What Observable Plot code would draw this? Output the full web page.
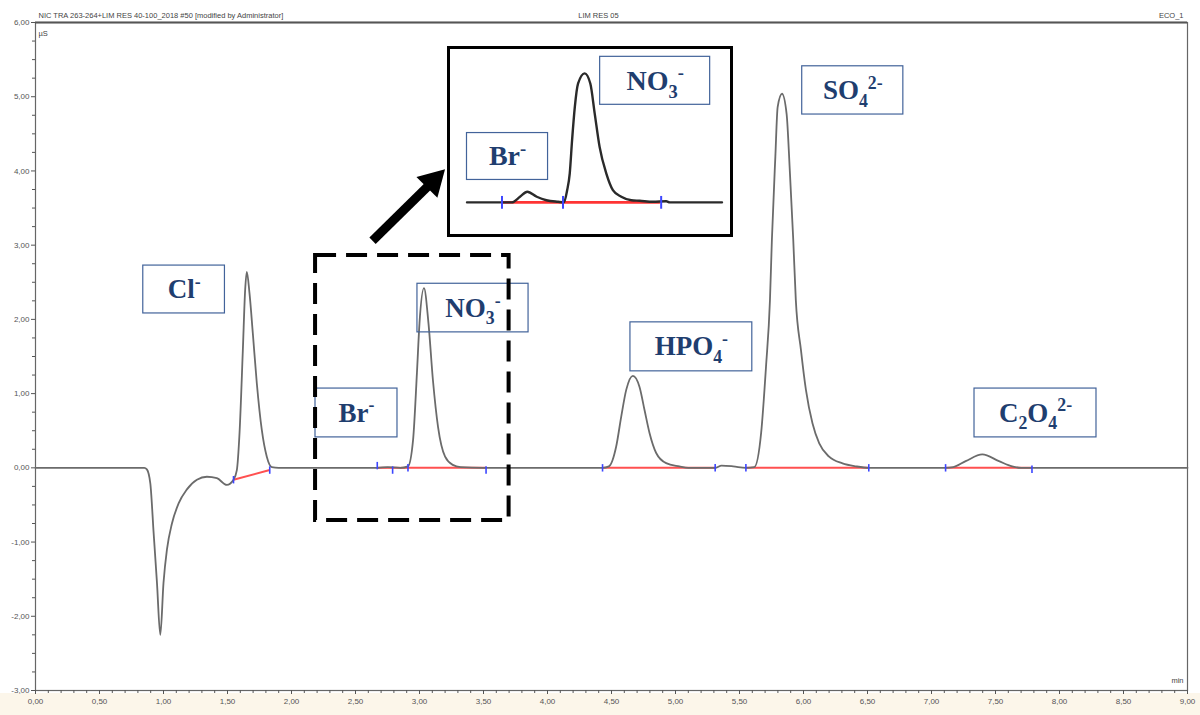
<!DOCTYPE html>
<html>
<head>
<meta charset="utf-8">
<script src="https://cdn.jsdelivr.net/npm/d3@7"></script>
<script src="https://cdn.jsdelivr.net/npm/@observablehq/plot@0.6"></script>
<style>
  html, body { margin: 0; padding: 0; background: #fff; }
  #wrap { position: relative; width: 1200px; height: 715px; overflow: hidden; }
  #inset { position: absolute; left: 447px; top: 46px; width: 286px; height: 191px;
           border: 3.5px solid #000; box-sizing: border-box; background: #fff; }
  #inset svg { display: block; }
</style>
</head>
<body>
<div id="wrap"><div id="main"></div><div id="inset"></div></div>
<script>
// ---------------- data ----------------
// chromatogram: retention time (min) and conductivity (µS)
const time = [0.00, 0.50, 0.85, 0.87, 0.897, 0.923, 0.949, 0.975, 1.000, 1.027, 1.066, 1.118, 1.183, 1.261, 1.339, 1.417, 1.495, 1.547, 1.573, 1.594, 1.620, 1.638, 1.651, 1.672, 1.698, 1.729, 1.768, 1.807, 1.846, 1.90,
  2.67, 2.75, 2.85, 2.91, 2.95, 2.98, 3.00, 3.035, 3.07, 3.105, 3.145, 3.20, 3.26, 3.32, 3.50,
  4.43, 4.48, 4.537, 4.576, 4.615, 4.667, 4.719, 4.758, 4.797, 4.849, 4.927, 5.03, 5.10,
  5.31, 5.36, 5.45, 5.55, 5.616, 5.669, 5.707, 5.738, 5.753, 5.78, 5.798, 5.832, 5.868, 5.894, 5.92, 5.94, 5.98, 6.019, 6.07, 6.123, 6.20, 6.305, 6.41, 6.51,
  7.11, 7.17, 7.267, 7.397, 7.527, 7.63, 7.70, 9.00];
const signal = [0, 0, 0, -0.02, -0.21, -0.88, -1.55, -2.25, -1.55, -1.10, -0.75, -0.48, -0.29, -0.16, -0.12, -0.14, -0.23, -0.16, -0.03, 0.47, 1.59, 2.40, 2.64, 2.35, 1.81, 1.14, 0.51, 0.15, 0.01, 0,
  0, 0.01, 0, 0.02, 0.38, 1.28, 1.95, 2.42, 1.95, 1.18, 0.55, 0.15, 0.04, 0.01, 0,
  0, 0.02, 0.29, 0.69, 1.05, 1.24, 1.09, 0.78, 0.47, 0.20, 0.063, 0.02, 0,
  0, 0.03, 0.02, 0, 0.01, 0.47, 1.36, 2.26, 3.07, 4.19, 4.86, 5.04, 4.77, 3.97, 3.07, 2.26, 1.59, 1.05, 0.60, 0.33, 0.15, 0.06, 0.02, 0,
  0, 0.01, 0.09, 0.18, 0.09, 0.02, 0, 0];

// integration baselines (red)
const baseStartT = [1.547, 2.67, 2.91, 4.43, 5.55, 7.11];
const baseStartV = [-0.16, 0, 0, 0, 0, 0];
const baseEndT   = [1.83, 2.91, 3.52, 5.31, 6.51, 7.785];
const baseEndV   = [-0.03, 0, 0, 0, 0, 0];
// peak start / end markers (blue)
const markT = [1.547, 1.83, 2.67, 2.79, 2.91, 3.52, 4.43, 5.31, 5.55, 6.51, 7.11, 7.785];
const markV = [-0.16, -0.03, 0.03, -0.03, 0, -0.03, 0, 0, 0, 0, 0, -0.02];

// zoomed inset (Br- / NO3- region)
const insetTime = [2.40, 2.592, 2.646, 2.691, 2.731, 2.783, 2.836, 2.900, 2.932, 2.950, 2.964, 2.977, 2.992, 3.010, 3.046, 3.077, 3.101, 3.128, 3.165, 3.201, 3.247, 3.302, 3.348, 3.421, 3.494, 3.513, 3.80];
const insetSignal = [0, 0, 0, 0.105, 0.20, 0.105, 0.04, 0.01, 0, 0.23, 0.54, 1.17, 1.79, 2.23, 2.42, 2.23, 1.67, 1.04, 0.54, 0.23, 0.105, 0.04, 0.03, 0.01, 0.02, 0, 0];
const insetBaseT = [2.592, 3.462];
const insetMarkT = [2.592, 2.927, 3.466];

// ion labels
const ionLabels = ["Cl^{-}", "Br^{-}", "NO_{3}^{-}", "HPO_{4}^{-}", "SO_{4}^{2-}", "C_{2}O_{4}^{2-}"];
const insetLabels = ["Br^{-}", "NO_{3}^{-}"];

// axes
const yTicks = [-3, -2, -1, 0, 1, 2, 3, 4, 5, 6];
const xTicks = [0, 0.5, 1, 1.5, 2, 2.5, 3, 3.5, 4, 4.5, 5, 5.5, 6, 6.5, 7, 7.5, 8, 8.5, 9];
const headerLeft = "NIC TRA 263-264+LIM RES 40-100_2018 #50 [modified by Administrator]";
const headerMid = "LIM RES 05";
const headerRight = "ECO_1";

// ---------------- build tables ----------------
const curve = time.map((t, i) => ({t, v: signal[i]}));
const baselines = baseStartT.map((t, i) => ({t1: t, v1: baseStartV[i], t2: baseEndT[i], v2: baseEndV[i]}));
const markers = markT.map((t, i) => ({t, v: markV[i]}));
const insetCurve = insetTime.map((t, i) => ({t, v: insetSignal[i]}));

// annotation boxes (in data units)
const labelBoxes = [
  {x1: 0.842, x2: 1.480, y1: 2.08, y2: 2.725},
  {x1: 2.1875, x2: 2.828, y1: 0.41, y2: 1.068},
  {x1: 2.984, x2: 3.852, y1: 1.825, y2: 2.48},
  {x1: 4.648, x2: 5.600, y1: 1.30, y2: 1.96},
  {x1: 5.990, x2: 6.780, y1: 4.76, y2: 5.41},
  {x1: 7.336, x2: 8.289, y1: 0.41, y2: 1.068}
].map((b, i) => ({...b, label: ionLabels[i]}));
const insetBoxes = [
  {x1: 2.40, x2: 2.845, y1: 0.42, y2: 1.30},
  {x1: 3.131, x2: 3.735, y1: 1.83, y2: 2.73}
].map((b, i) => ({...b, label: insetLabels[i]}));

const fmt = d => d.toFixed(2).replace(".", ",");
const minorY = d3.range(-3, 6.001, 0.25).filter(d => !yTicks.includes(d));
const minorX = d3.range(0, 90).map(d => d / 10).filter(d => !xTicks.some(x => Math.abs(x - d) < 1e-9));

const labelFont = "'Liberation Serif', 'Times New Roman', serif";
const labelColor = "#1f3e6f";
const boxColor = "#42639a";

const main = Plot.plot({
  width: 1200, height: 715,
  marginLeft: 35, marginRight: 13, marginTop: 22, marginBottom: 25,
  x: {domain: [0, 9], label: null},
  y: {domain: [-3, 6], label: null},
  style: {
    fontFamily: "'Liberation Sans', Arial, sans-serif",
    fontSize: "8px",
    color: "#444",
    background: "linear-gradient(to bottom, #ffffff 0px, #ffffff 693px, #fcf6ea 693px)"
  },
  marks: [
    Plot.frame({stroke: "#666", strokeWidth: 1.2}),
    Plot.ruleY([6], {stroke: "#555", strokeWidth: 2.2}),
    Plot.axisY(minorY, {tickSize: 3, tickFormat: () => "", color: "#555"}),
    Plot.axisY(yTicks, {tickSize: 4, tickPadding: 2, tickFormat: fmt, fontSize: 8, color: "#555"}),
    Plot.axisX(minorX, {tickSize: 3, tickFormat: () => "", color: "#555"}),
    Plot.axisX(xTicks, {tickSize: 4, tickPadding: 4, tickFormat: fmt, fontSize: 8, color: "#555"}),
    Plot.text([headerLeft], {frameAnchor: "top-left", dx: 3, dy: -10, textAnchor: "start", fontSize: 7.5, fill: "#444"}),
    Plot.text([headerMid], {frameAnchor: "top", dx: -13, dy: -10, fontSize: 7.5, fill: "#444"}),
    Plot.text([headerRight], {frameAnchor: "top-right", dx: -4, dy: -10, textAnchor: "end", fontSize: 7.5, fill: "#444"}),
    Plot.text(["µS"], {frameAnchor: "top-left", dx: 3, dy: 8, textAnchor: "start", fontSize: 7.5, fill: "#444"}),
    Plot.text(["min"], {frameAnchor: "bottom-right", dx: -4, dy: -8, textAnchor: "end", fontSize: 7.5, fill: "#444"}),
    // integration baselines
    Plot.link(baselines, {x1: "t1", y1: "v1", x2: "t2", y2: "v2", stroke: "#ff5050", strokeWidth: 2}),
    // chromatogram
    Plot.line(curve, {x: "t", y: "v", stroke: "#6b6b6b", strokeWidth: 1.8, curve: "monotone-x"}),
    // peak markers
    Plot.link(markers, {x1: "t", x2: "t", y1: d => d.v - 0.05, y2: d => d.v + 0.05, stroke: "#3c46ff", strokeWidth: 1.6}),
    // label boxes and labels
    Plot.rect(labelBoxes, {x1: "x1", x2: "x2", y1: "y1", y2: "y2", fill: "none", stroke: boxColor, strokeWidth: 1.2}),
    Plot.text(labelBoxes, {x: d => (d.x1 + d.x2) / 2, y: d => (d.y1 + d.y2) / 2, text: "label",
      fontFamily: labelFont, fontWeight: "bold", fontSize: 27, fill: labelColor}),
    // dashed zoom region
    Plot.rect([{x1: 2.188, x2: 3.70, y1: -0.71, y2: 2.86}], {x1: "x1", x2: "x2", y1: "y1", y2: "y2",
      fill: "none", stroke: "#000", strokeWidth: 4, strokeDasharray: "21,10"}),
    // arrow to inset
    Plot.link([{x1: 2.633, y1: 3.06, x2: 3.07, y2: 3.80}], {x1: "x1", y1: "y1", x2: "x2", y2: "y2", stroke: "#000", strokeWidth: 9}),
    Plot.dot([{x: 3.105, y: 3.86}], {x: "x", y: "y", symbol: "triangle", r: 11, rotate: 45, fill: "#000", stroke: "none"})
  ]
});

const inset = Plot.plot({
  width: 279, height: 184,
  marginLeft: 0, marginRight: 0, marginTop: 0, marginBottom: 0,
  x: {domain: [2.4, 3.8], range: [16.5, 271.5], axis: null},
  y: {domain: [-0.5, 2.8], range: [179.5, 3.6], axis: null},
  style: {background: "#fff"},
  marks: [
    Plot.ruleY([0], {x1: insetBaseT[0], x2: insetBaseT[1], stroke: "#ff3434", strokeWidth: 2.6}),
    Plot.line(insetCurve, {x: "t", y: "v", stroke: "#2a2a2a", strokeWidth: 2.4, curve: "monotone-x"}),
    Plot.link(insetMarkT, {x1: d => d, x2: d => d, y1: -0.12, y2: 0.12, stroke: "#3c46ff", strokeWidth: 2}),
    Plot.rect(insetBoxes, {x1: "x1", x2: "x2", y1: "y1", y2: "y2", fill: "none", stroke: boxColor, strokeWidth: 1.2}),
    Plot.text(insetBoxes, {x: d => (d.x1 + d.x2) / 2, y: d => (d.y1 + d.y2) / 2, text: "label",
      fontFamily: labelFont, fontWeight: "bold", fontSize: 28, fill: labelColor})
  ]
});

// turn "_{..}" and "^{..}" into sub/superscript tspans
function richify(svg) {
  const NS = "http://www.w3.org/2000/svg";
  svg.querySelectorAll("text").forEach(node => {
    const s = node.textContent;
    if (!/[_^]\{/.test(s)) return;
    const fs = parseFloat(node.getAttribute("font-size") || node.closest("[font-size]")?.getAttribute("font-size") || 27);
    const parts = s.split(/([_^]\{[^}]*\})/).filter(p => p.length);
    node.textContent = "";
    let cur = 0;
    parts.forEach(p => {
      const ts = document.createElementNS(NS, "tspan");
      let target = 0, txt = p, small = false;
      if (p.startsWith("_{")) { target = fs * 0.28; txt = p.slice(2, -1); small = true; }
      else if (p.startsWith("^{")) { target = -fs * 0.38; txt = p.slice(2, -1); small = true; }
      if (small) ts.setAttribute("font-size", (fs * 0.66).toFixed(1));
      const dy = target - cur;
      if (dy !== 0) ts.setAttribute("dy", dy.toFixed(1));
      cur = target;
      ts.textContent = txt;
      node.appendChild(ts);
    });
  });
}
richify(main);
richify(inset);

document.getElementById("main").appendChild(main);
document.getElementById("inset").appendChild(inset);
</script>
</body>
</html>
